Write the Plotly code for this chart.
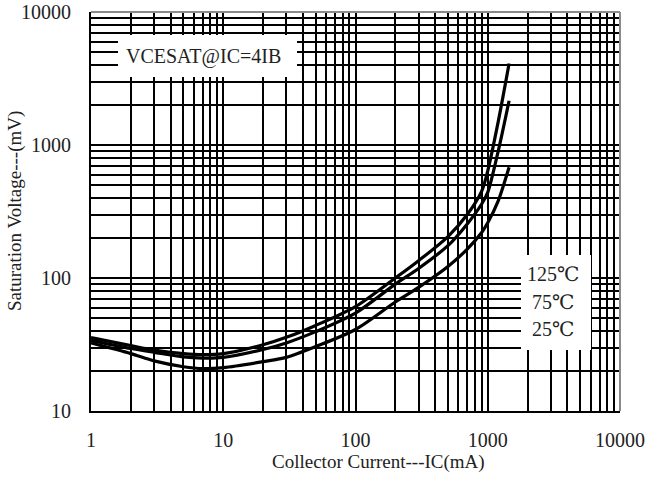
import plotly.graph_objects as go

# Data
current_ma = [1, 2, 3, 5, 7, 10, 20, 30, 50, 100, 200, 300, 500, 700, 900, 1000, 1200, 1450]
v_125 = [35.6, 31, 28.7, 27, 26.5, 27, 31.5, 35.8, 44, 61, 100, 135, 205, 300, 450, 640, 1500, 4100]
v_75 = [34, 29.5, 27.6, 25.5, 25, 25.3, 29, 32.5, 39.5, 54.5, 90, 118, 175, 255, 360, 440, 900, 2150]
v_25 = [32.5, 27, 23.8, 21.5, 20.8, 21.2, 23.5, 25.3, 30.5, 41, 66, 85, 122, 165, 220, 260, 380, 680]

x_ticks = [m * 10 ** d for d in range(4) for m in range(1, 10)] + [10000]
x_ticktext = [str(v) if m == 1 else "" for v, m in
              [(m * 10 ** d, m) for d in range(4) for m in range(1, 10)]] + ["10000"]
y_ticks = [m * 10 ** d for d in range(1, 4) for m in range(1, 10)] + [10000]
y_ticktext = [str(v) if m == 1 else "" for v, m in
              [(m * 10 ** d, m) for d in range(1, 4) for m in range(1, 10)]] + ["10000"]

box_label = "VCESAT@IC=4IB"
temp_labels = ["125℃", "75℃", "25℃"]

FONT = "'Liberation Serif', 'Times New Roman', 'DejaVu Serif', serif"
FS = 20
FS_T = 19

fig = go.Figure()
for v in (v_125, v_75, v_25):
    fig.add_trace(go.Scatter(x=current_ma, y=v, mode="lines",
                             line=dict(color="black", width=3.2, shape="spline", smoothing=0.8),
                             showlegend=False, hoverinfo="skip"))

W, H = 646, 484
L, R, T, B = 91, 26, 12, 73
pw, ph = W - L - R, H - T - B


def px_x(p):
    return (p - L) / pw


def px_y(p):
    return (H - B - p) / ph


fig.update_layout(
    width=W, height=H,
    margin=dict(l=L, r=R, t=T, b=B, autoexpand=False),
    paper_bgcolor="white", plot_bgcolor="white",
    font=dict(family=FONT, size=FS, color="#222"),
    xaxis=dict(type="log", range=[0, 4], tickvals=x_ticks, ticktext=x_ticktext,
               showgrid=True, gridcolor="black", gridwidth=1.8,
               showline=True, linecolor="black", linewidth=1.8,
               ticks="outside", ticklen=10, tickcolor="rgba(0,0,0,0)", automargin=False,
               tickfont=dict(family=FONT, size=FS, color="#222"), zeroline=False),
    yaxis=dict(type="log", range=[1, 4], tickvals=y_ticks, ticktext=y_ticktext,
               showgrid=True, gridcolor="black", gridwidth=1.8,
               showline=True, linecolor="black", linewidth=1.8,
               ticks="outside", ticklen=14, tickcolor="rgba(0,0,0,0)", automargin=False,
               tickfont=dict(family=FONT, size=FS, color="#222"), zeroline=False),
)

shapes = [
    # gray top and right borders
    dict(type="line", xref="paper", yref="paper", x0=0, x1=1, y0=1, y1=1,
         line=dict(color="#8a8a8a", width=2)),
    dict(type="line", xref="paper", yref="paper", x0=1, x1=1, y0=0, y1=1,
         line=dict(color="#8a8a8a", width=2)),
    # white boxes behind labels
    dict(type="rect", xref="paper", yref="paper",
         x0=px_x(118), x1=px_x(297), y0=px_y(77), y1=px_y(35),
         fillcolor="white", line=dict(width=0), layer="above"),
    dict(type="rect", xref="paper", yref="paper",
         x0=px_x(521), x1=px_x(591), y0=px_y(350), y1=px_y(255),
         fillcolor="white", line=dict(width=0), layer="above"),
]
fig.update_layout(shapes=shapes)


def ann(text, xp, yp, size, angle=0):
    return dict(text=text, x=px_x(xp), y=px_y(yp), xref="paper", yref="paper",
                xanchor="center", yanchor="middle", showarrow=False, textangle=angle,
                font=dict(family=FONT, size=size, color="#222"))


anns = [
    ann(box_label, 203, 56, FS),
    ann("Collector Current---IC(mA)", 378, 462, FS_T),
    ann("Saturation Voltage---(mV)", 15, 211, FS_T, -90),
]
for lbl, yp in zip(temp_labels, [274, 301.5, 329]):
    anns.append(ann(lbl, 553, yp, FS))
fig.update_layout(annotations=anns)

fig.write_html("out.html", config={"displayModeBar": False},
               post_script="document.body.style.margin='0';document.body.style.overflow='hidden';")
